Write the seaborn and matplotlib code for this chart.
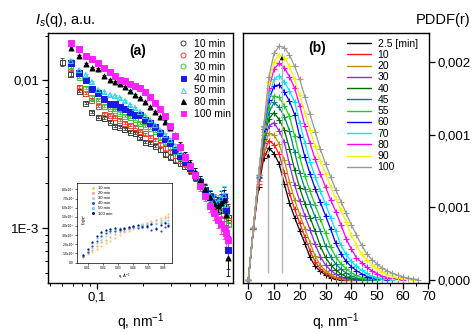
import numpy as np
import pandas as pd
import matplotlib
matplotlib.use("Agg")
import matplotlib.pyplot as plt
import seaborn as sns
from matplotlib.lines import Line2D
from matplotlib.ticker import FixedLocator, FixedFormatter, NullFormatter, LogLocator, MultipleLocator

nan = np.nan

# ---------------- Panel (a): SAXS intensity ----------------
q_a = [0.060, 0.068, 0.077, 0.085, 0.093, 0.102, 0.112, 0.122, 0.131, 0.141, 0.152, 0.164,
       0.177, 0.190, 0.205, 0.221, 0.238, 0.256, 0.276, 0.297, 0.320, 0.345, 0.371, 0.400,
       0.431, 0.464, 0.500, 0.538, 0.571, 0.606, 0.634, 0.663, 0.683, 0.703]
labels_a = ["10 min", "20 min", "30 min", "40 min", "50 min", "80 min", "100 min"]
I_10min = [0.01323, 0.01098, 0.00843, 0.00699, 0.00608, 0.00562, 0.00554, 0.00520, 0.00489, 0.00481,
           0.00466, 0.00445, 0.00438, 0.00406, 0.00381, 0.00375, 0.00358, 0.00337, 0.00316, 0.00302,
           0.00288, 0.00275, 0.00262, 0.00243, 0.00221, 0.00198, 0.00181, 0.00165, 0.00155, 0.00145,
           0.00139, 0.00132, 0.00126, 0.00117]
I_20min = [nan, 0.01205, 0.00897, 0.00817, 0.00733, 0.00667, 0.00589, 0.00580, 0.00562, 0.00537,
           0.00512, 0.00496, 0.00481, 0.00452, 0.00432, 0.00412, 0.00393, 0.00369, 0.00347, 0.00326,
           0.00307, 0.00288, 0.00271, 0.00250, 0.00225, 0.00201, 0.00181, 0.00162, 0.00152, 0.00143,
           0.00139, 0.00132, 0.00124, 0.00113]
I_30min = [nan, 0.01243, 0.01048, 0.00883, 0.00768, 0.00733, 0.00667, 0.00647, 0.00627, 0.00598,
           0.00571, 0.00562, 0.00545, 0.00512, 0.00489, 0.00474, 0.00452, 0.00412, 0.00381, 0.00353,
           0.00331, 0.00302, 0.00279, 0.00254, 0.00228, 0.00205, 0.00181, 0.00162, 0.00150, 0.00141,
           0.00136, 0.00132, 0.00122, 0.00105]
I_40min = [nan, 0.01303, 0.01115, 0.01000, 0.00869, 0.00817, 0.00744, 0.00688, 0.00688, 0.00657,
           0.00637, 0.00608, 0.00580, 0.00580, 0.00537, 0.00512, 0.00481, 0.00438, 0.00399, 0.00375,
           0.00337, 0.00307, 0.00279, 0.00254, 0.00228, 0.00205, 0.00181, 0.00162, 0.00150, 0.00145,
           0.00155, 0.00162, 0.00132, 0.00071]
I_50min = [nan, 0.01344, 0.01168, 0.01081, 0.00969, 0.00856, 0.00830, 0.00792, 0.00780, 0.00756,
           0.00721, 0.00678, 0.00647, 0.00608, 0.00571, 0.00537, 0.00496, 0.00459, 0.00425, 0.00393,
           0.00358, 0.00326, 0.00293, 0.00266, 0.00239, 0.00211, 0.00186, 0.00167, 0.00155, 0.00150,
           0.00159, 0.00167, 0.00143, 0.00083]
I_80min = [nan, 0.01646, 0.01453, 0.01283, 0.01205, 0.01187, 0.01064, 0.01000, 0.00969, 0.00940,
           0.00897, 0.00843, 0.00792, 0.00756, 0.00710, 0.00657, 0.00608, 0.00562, 0.00520, 0.00474,
           0.00425, 0.00364, 0.00311, 0.00275, 0.00239, 0.00211, 0.00183, 0.00162, 0.00148, 0.00141,
           0.00148, 0.00155, 0.00122, 0.00063]
I_100min = [nan, 0.01779, 0.01620, 0.01453, 0.01387, 0.01303, 0.01205, 0.01132, 0.01064, 0.01000,
            0.00985, 0.00940, 0.00911, 0.00883, 0.00830, 0.00768, 0.00699, 0.00637, 0.00571, 0.00489,
            0.00418, 0.00353, 0.00302, 0.00262, 0.00228, 0.00192, 0.00165, 0.00141, 0.00126, 0.00113,
            0.00106, 0.00100, 0.000925, 0.00083]
err_frac_a = [0.06, 0.03, 0.02, 0.015, 0.015, 0.015, 0.015, 0.015, 0.015, 0.015, 0.015, 0.015,
              0.015, 0.015, 0.02, 0.02, 0.02, 0.025, 0.03, 0.03, 0.035, 0.04, 0.045, 0.05,
              0.06, 0.07, 0.08, 0.09, 0.10, 0.12, 0.14, 0.16, 0.20, 0.25]
xticks_a = [0.1]
xticklabels_a = ["0,1"]
yticks_a = [0.001, 0.01]
yticklabels_a = ["1E-3", "0,01"]

# ---------------- Inset: Kratky plot ----------------
q_in = [0.007, 0.010, 0.013, 0.016, 0.019, 0.022, 0.025, 0.028, 0.031, 0.034,
        0.037, 0.040, 0.043, 0.046, 0.049, 0.052, 0.055, 0.058, 0.061, 0.063]
labels_in = ["10 min", "20 min", "30 min", "40 min", "50 min", "100 min"]
Iq2_10min = [6000, 9000, 12000, 15000, 18000, 21000, 24000, 27000, 30000, 33000,
             35000, 37000, 39000, 41000, 43000, 45000, 47000, 49000, 51000, 53000]
Iq2_20min = [6000, 10000, 14000, 18000, 22000, 25000, 28000, 31000, 33000, 35000,
             37000, 39000, 40000, 42000, 43000, 44000, 46000, 47000, 49000, 50000]
Iq2_30min = [7000, 11000, 16000, 21000, 25000, 29000, 32000, 34000, 36000, 37000,
             38000, 39000, 40000, 41000, 42000, 43000, 43000, 44000, 45000, 46000]
Iq2_40min = [7000, 12000, 18000, 24000, 29000, 32000, 34000, 35000, 36000, 37000,
             38000, 39000, 38000, 40000, 39000, 36000, 38000, 35000, 39000, 41000]
Iq2_50min = [8000, 14000, 21000, 27000, 32000, 35000, 37000, 37000, 38000, 38000,
             39000, 40000, 40000, 41000, 41000, 42000, 42000, 43000, 44000, 43000]
Iq2_100min = [8000, 15000, 23000, 29000, 33000, 36000, 37000, 38000, 37000, 38000,
              39000, 40000, 41000, 39000, 40000, 42000, 37000, 41000, 43000, 40000]
xticks_in = [0.01, 0.02, 0.03, 0.04, 0.05, 0.06]
xticklabels_in = ["0.01", "0.02", "0.03", "0.04", "0.05", "0.06"]
yticks_in = [0, 10000, 20000, 30000, 40000, 50000, 60000, 70000, 80000]
yticklabels_in = ["0.0", "1.0x10⁴", "2.0x10⁴", "3.0x10⁴", "4.0x10⁴",
                  "5.0x10⁴", "6.0x10⁴", "7.0x10⁴", "8.0x10⁴"]

# ---------------- Panel (b): PDDF ----------------
r_b = [0, 2, 4, 6, 8, 10, 12, 14, 16, 18, 20, 22, 24, 26, 28, 30, 32, 34, 36, 38,
       40, 42, 44, 46, 48, 50, 52, 54, 56, 58, 60, 62, 64, 66]
labels_b = ["2.5 [min]", "10", "20", "30", "40", "45", "55", "60", "70", "80", "90", "100"]
pddf_2p5 = [0, 0.00035, 0.00064, 0.00084, 0.00091, 0.00087, 0.00080, 0.00066, 0.00053, 0.00043,
            0.00034, 0.00025, 0.000155, 0.000095, 0.00006, 0.000035, 0.000016, 0.000008, 0.000003,
            0.000001, 0.0]
pddf_10 = [0, 0.00035, 0.00066, 0.00087, 0.00096, 0.000932, 0.000865, 0.000738, 0.000599, 0.000486,
           0.000389, 0.000297, 0.000200, 0.000125, 0.000078, 0.000048, 0.000026, 0.000012, 0.000006,
           0.000002, 0.0]
pddf_20 = [0, 0.00036, 0.00068, 0.00091, 0.00101, 0.000999, 0.000935, 0.000824, 0.000676, 0.000552,
           0.000447, 0.000353, 0.000256, 0.000162, 0.000101, 0.000065, 0.000038, 0.000018, 0.00001,
           0.000004, 0.000001, 0.0]
pddf_30 = [0, 0.00036, 0.00070, 0.00094, 0.00106, 0.001082, 0.001026, 0.000948, 0.000796, 0.000655,
           0.000542, 0.000442, 0.000346, 0.000246, 0.00016, 0.000103, 0.000067, 0.00004, 0.000021,
           0.000011, 0.000005, 0.000002, 0.0]
pddf_40 = [0, 0.00036, 0.00071, 0.00097, 0.00111, 0.001152, 0.001103, 0.001033, 0.000904, 0.000758,
           0.000631, 0.000526, 0.00043, 0.000334, 0.000233, 0.000155, 0.000103, 0.000068, 0.000042,
           0.000022, 0.000013, 0.000006, 0.000002, 0.0]
pddf_45 = [0, 0.00036, 0.00072, 0.00100, 0.00115, 0.001223, 0.001188, 0.001125, 0.001028, 0.000879,
           0.000739, 0.000627, 0.000524, 0.000431, 0.000335, 0.000234, 0.00016, 0.000109, 0.000075,
           0.000048, 0.000028, 0.000015, 0.000008, 0.000003, 0.0]
pddf_55 = [0, 0.00036, 0.00072, 0.00102, 0.00119, 0.001268, 0.001257, 0.0012, 0.001127, 0.00099,
           0.000844, 0.000716, 0.00061, 0.000514, 0.000421, 0.000325, 0.000225, 0.000159, 0.000111,
           0.000077, 0.00005, 0.000031, 0.000017, 0.00001, 0.000004, 0.0]
pddf_60 = [0, 0.00036, 0.00072, 0.00104, 0.00124, 0.001335, 0.001344, 0.001296, 0.00123, 0.001139,
           0.000983, 0.000846, 0.00073, 0.000628, 0.000534, 0.000443, 0.00035, 0.000252, 0.000182,
           0.000129, 0.000092, 0.000065, 0.000043, 0.000024, 0.000015, 0.000009, 0.000004, 0.0]
pddf_70 = [0, 0.00036, 0.00072, 0.00105, 0.00127, 0.00138, 0.001407, 0.001363, 0.001302, 0.001225,
           0.001082, 0.000943, 0.000813, 0.00071, 0.000612, 0.000521, 0.000429, 0.000336, 0.000238,
           0.000176, 0.000128, 0.000093, 0.000066, 0.000045, 0.000025, 0.000017, 0.00001, 0.000004, 0.0]
pddf_80 = [0, 0.00036, 0.00072, 0.00106, 0.00132, 0.00145, 0.001494, 0.00146, 0.00140, 0.00132,
           0.00120, 0.00106, 0.00094, 0.00083, 0.00073, 0.00064, 0.00055, 0.00047, 0.00038,
           0.000285, 0.000214, 0.000154, 0.00012, 0.000088, 0.000063, 0.000043, 0.000026, 0.000017,
           0.000011, 0.000005, 0.0]
pddf_90 = [0, 0.00036, 0.00072, 0.00106, 0.00136, 0.00150, 0.00155, 0.00153, 0.00147, 0.00138,
           0.00127, 0.00115, 0.00103, 0.00092, 0.00082, 0.00073, 0.00064, 0.00056, 0.00048,
           0.00040, 0.00031, 0.00024, 0.00018, 0.00014, 0.000105, 0.00008, 0.000056, 0.000037,
           0.000024, 0.000016, 0.00001, 0.000005, 0.0]
pddf_100 = [0, 0.00036, 0.00072, 0.00106, 0.00140, 0.00156, 0.00161, 0.00160, 0.00155, 0.00147,
            0.00138, 0.00126, 0.00114, 0.00102, 0.00090, 0.00080, 0.00071, 0.00062, 0.00054,
            0.00046, 0.00038, 0.00031, 0.00024, 0.00018, 0.00014, 0.00011, 0.000082, 0.000062,
            0.000046, 0.000033, 0.000022, 0.000014, 0.000008, 0.000003]
yticks_b = [0.0, 0.0005, 0.001, 0.0015]
yticklabels_b = ["0,000", "0,001", "0,001", "0,002"]
arrow_r = [7.8, 13.0]
arrow_tip = [0.00089, 0.00156]
arrow_base = 0.00005

# ---------------- styling ----------------
sns.set_theme(style="ticks", rc={
    "axes.edgecolor": "black", "xtick.color": "black", "ytick.color": "black",
    "text.color": "black", "axes.labelcolor": "black", "axes.linewidth": 1.0,
})
plt.rcParams["font.family"] = ["Liberation Sans", "DejaVu Sans"]
plt.rcParams["mathtext.fontset"] = "custom"
plt.rcParams["mathtext.rm"] = "Liberation Sans"
plt.rcParams["mathtext.it"] = "Liberation Sans:italic"

FS_TICK = 9.5
FS_LAB = 10

fig = plt.figure(figsize=(4.77, 3.33), dpi=100)
ax1 = fig.add_axes([48 / 477, 1 - 283 / 333, 185 / 477, 250 / 333])
ax2 = fig.add_axes([243 / 477, 1 - 283 / 333, 186 / 477, 250 / 333])

# ---- panel (a)
series_a = [I_10min, I_20min, I_30min, I_40min, I_50min, I_80min, I_100min]
styles_a = [("#3c3c3c", "s", False), ("#e8402a", "s", False), ("#36c836", "s", False),
            ("#1a1ae6", "s", True), ("#2fd3e6", "^", False), ("black", "^", True),
            ("#ff22ff", "s", True)]
ax1.set_xscale("log")
ax1.set_yscale("log")
for vals, (col, mk, filled), lab in zip(series_a, styles_a, labels_a):
    v = np.array(vals, dtype=float)
    q = np.array(q_a)
    ax1.errorbar(q, v, yerr=v * np.array(err_frac_a), fmt="none", ecolor=col,
                 elinewidth=0.6, capsize=1.5, capthick=0.6, zorder=2)
    df = pd.DataFrame({"q": q, "I": v}).dropna()
    sns.scatterplot(data=df, x="q", y="I", ax=ax1, marker=mk, s=13, color=col,
                    edgecolor=col, linewidth=0.7, legend=False, zorder=3)
    if not filled:
        ax1.collections[-1].set_facecolor("none")

ax1.set_xlim(0.0485, 0.757)
ax1.set_ylim(4.25e-4, 0.0208)
ax1.xaxis.set_major_locator(FixedLocator(xticks_a))
ax1.xaxis.set_major_formatter(FixedFormatter(xticklabels_a))
ax1.xaxis.set_minor_locator(LogLocator(base=10, subs=np.arange(2, 10)))
ax1.xaxis.set_minor_formatter(NullFormatter())
ax1.yaxis.set_major_locator(FixedLocator(yticks_a))
ax1.yaxis.set_major_formatter(FixedFormatter(yticklabels_a))
ax1.yaxis.set_minor_locator(LogLocator(base=10, subs=np.arange(2, 10)))
ax1.yaxis.set_minor_formatter(NullFormatter())
ax1.tick_params(which="major", direction="out", length=4, width=0.9, labelsize=FS_TICK, pad=2)
ax1.tick_params(which="minor", direction="out", length=2.5, width=0.7)
ax1.set_xlabel(r"q, nm$^{-1}$", fontsize=FS_LAB, labelpad=6)
ax1.set_ylabel("")
ax1.text(0.486, 0.93, "(a)", transform=ax1.transAxes, fontsize=10, fontweight="bold",
         ha="center", va="center")

handles_a = []
for (col, mk, filled), lab in zip(styles_a, labels_a):
    m = "o" if (mk == "s" and not filled) else mk
    handles_a.append(Line2D([], [], ls="none", marker=m, ms=3.6, mew=0.7, color=col,
                            mfc=(col if filled else "none"), mec=col, label=lab))
ax1.legend(handles=handles_a, loc="upper left", bbox_to_anchor=(0.67, 1.0), frameon=False,
           fontsize=7.5, handlelength=1.0, handletextpad=0.6, labelspacing=0.16,
           borderaxespad=0.25, borderpad=0.3)

# ---- inset
axin = fig.add_axes([77 / 477, 1 - 263 / 333, 95 / 477, 80 / 333])
series_in = [Iq2_10min, Iq2_20min, Iq2_30min, Iq2_40min, Iq2_50min, Iq2_100min]
colors_in = ["#efd36a", "#f3a3b3", "#a6dca0", "#3050c8", "#62d6ee", "#141470"]
for vals, col, lab in zip(series_in, colors_in, labels_in):
    sns.scatterplot(x=q_in, y=vals, ax=axin, color=col, s=2.5, linewidth=0, legend=False)
axin.set_xlim(0.003, 0.0655)
axin.set_ylim(-500, 87000)
axin.xaxis.set_major_locator(FixedLocator(xticks_in))
axin.xaxis.set_major_formatter(FixedFormatter(xticklabels_in))
axin.yaxis.set_major_locator(FixedLocator(yticks_in))
axin.yaxis.set_major_formatter(FixedFormatter(yticklabels_in))
axin.tick_params(direction="out", length=1.5, width=0.4, labelsize=2.4, pad=0.6)
for sp in axin.spines.values():
    sp.set_linewidth(0.5)
axin.set_xlabel("q, Å$^{-1}$", fontsize=3, labelpad=0.8)
axin.set_ylabel("")
axin.text(0.07, 0.55, "I(q)q²", transform=axin.transAxes, rotation=90, fontsize=3,
          ha="center", va="center")
handles_in = [Line2D([], [], ls="none", marker="o", ms=1.2, color=c, label=l)
              for c, l in zip(colors_in, labels_in)]
axin.legend(handles=handles_in, loc="upper left", frameon=False, fontsize=3,
            handlelength=0.8, handletextpad=0.6, labelspacing=0.25, borderaxespad=0.4,
            bbox_to_anchor=(0.12, 1.0))

# ---- panel (b)
series_b = [pddf_2p5, pddf_10, pddf_20, pddf_30, pddf_40, pddf_45, pddf_55, pddf_60,
            pddf_70, pddf_80, pddf_90, pddf_100]
colors_b = ["black", "#ff1a1a", "#b8900a", "#8a2be2", "#006f00", "#008080", "#22cc22",
            "#0000ff", "#00e5ff", "#ff00ff", "#f5f500", "#999999"]
for vals, col in zip(series_b, colors_b):
    df = pd.DataFrame({"r": r_b[:len(vals)], "p": vals})
    sns.lineplot(data=df, x="r", y="p", ax=ax2, color=col, linewidth=0.9,
                 estimator=None, sort=False, legend=False)
    ax2.plot(df["r"], df["p"], ls="none", marker="+", ms=4.5, mew=0.8, color=col)

ax2.vlines(arrow_r, arrow_base, arrow_tip, color="#b4b4b4", lw=1.0, zorder=5)
for rr, tip in zip(arrow_r, arrow_tip):
    ax2.annotate("", xy=(rr, tip), xytext=(rr, tip - 0.00006),
                 arrowprops=dict(arrowstyle="-|>", color="black", lw=0.6, mutation_scale=5),
                 zorder=6)

ax2.set_xlim(-2.06, 70.2)
ax2.set_ylim(-0.0000207, 0.0017)
ax2.xaxis.set_major_locator(MultipleLocator(10))
ax2.xaxis.set_minor_locator(MultipleLocator(5))
ax2.yaxis.tick_right()
ax2.yaxis.set_major_locator(FixedLocator(yticks_b))
ax2.yaxis.set_major_formatter(FixedFormatter(yticklabels_b))
ax2.tick_params(which="major", direction="out", length=4, width=0.9, labelsize=FS_TICK, pad=2)
ax2.tick_params(which="minor", direction="out", length=2.5, width=0.7)
ax2.set_xlabel(r"q, nm$^{-1}$", fontsize=FS_LAB, labelpad=6)
ax2.set_ylabel("")
ax2.text(0.40, 0.94, "(b)", transform=ax2.transAxes, fontsize=10, fontweight="bold",
         ha="center", va="center")

handles_b = [Line2D([], [], color=c, lw=1.0, label=l) for c, l in zip(colors_b, labels_b)]
ax2.legend(handles=handles_b, loc="upper left", bbox_to_anchor=(0.53, 1.0), frameon=False,
           fontsize=7.5, handlelength=2.3, handletextpad=0.6, labelspacing=0.12,
           borderaxespad=0.25, borderpad=0.3)

# ---- axis titles at top
fig.text(35 / 477, 1 - 20 / 333, r"$I_s$(q), a.u.", fontsize=10.5, ha="left", va="center")
fig.text(470 / 477, 1 - 20 / 333, "PDDF(r)", fontsize=10.5, ha="right", va="center")

fig.savefig("out.png", dpi=100)
